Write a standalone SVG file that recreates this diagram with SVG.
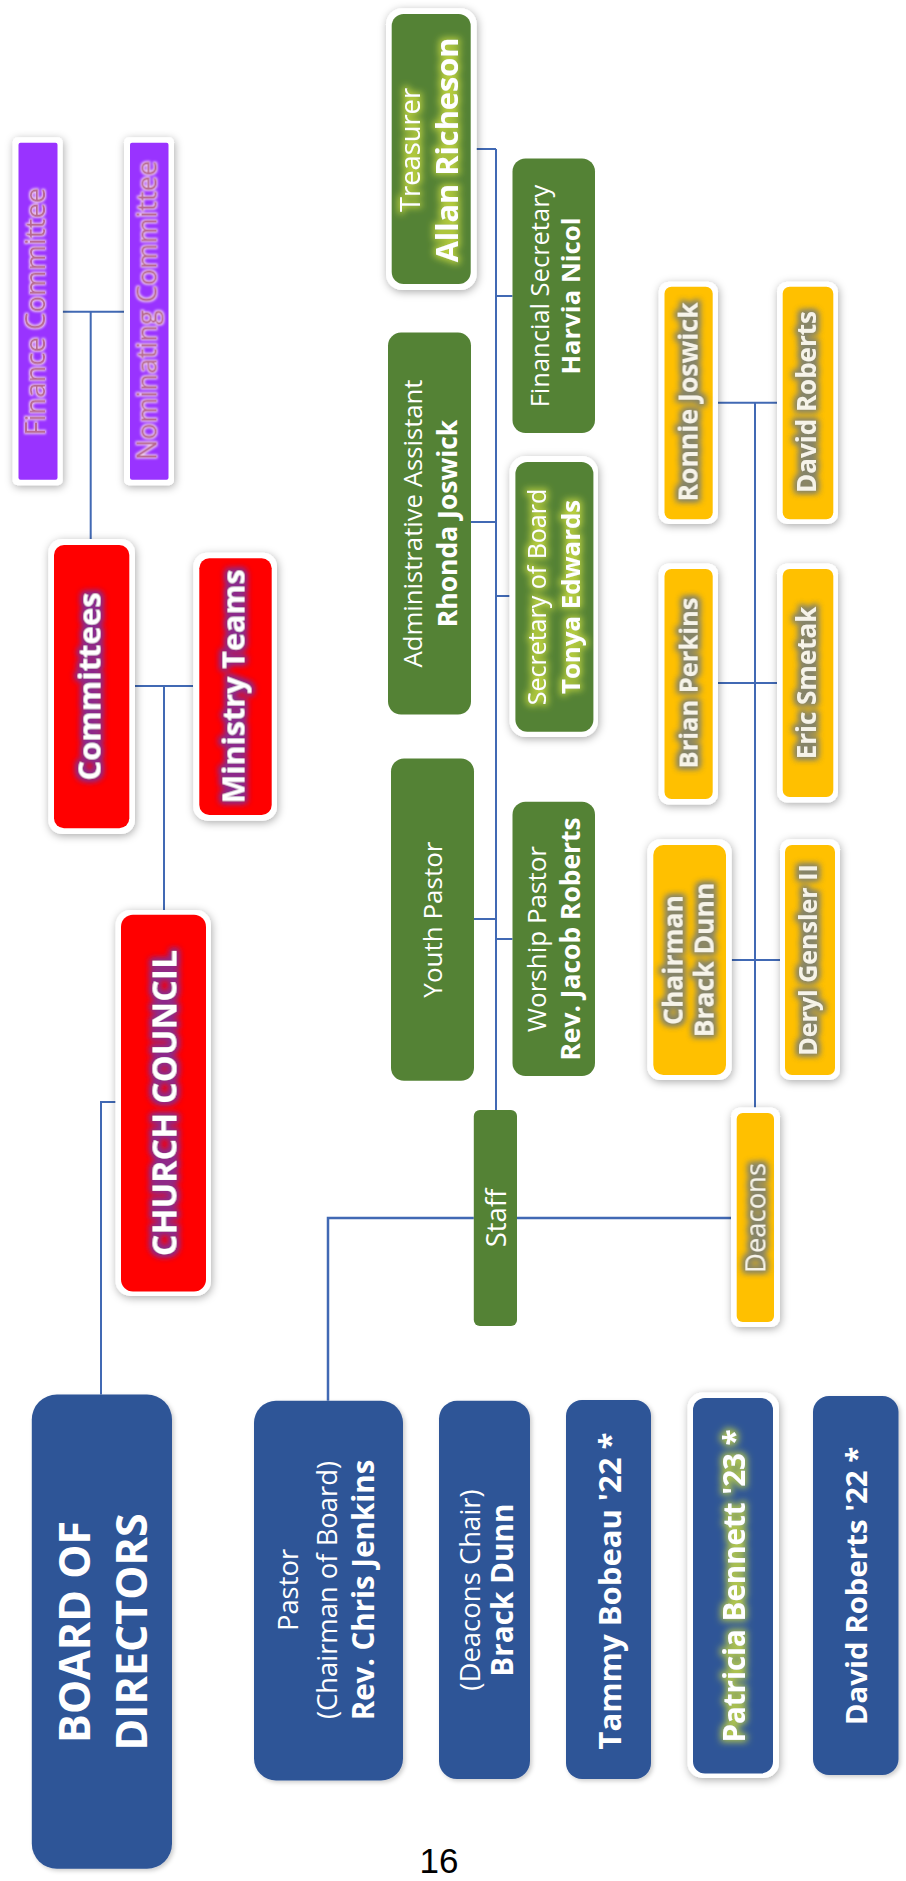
<svg xmlns="http://www.w3.org/2000/svg" width="906" height="1881" viewBox="0 0 906 1881">
<defs>
<style>
.ln{stroke:#4169B4;stroke-width:2;fill:none}
.w{fill:#fff;filter:url(#sh)}
.pu{fill:#9933FF}
.rd{fill:#FF0000}
.gr{fill:#548235}
.ye{fill:#FFC000}
.bl{fill:#2F5597;filter:url(#sh2)}
.t{font-family:"Open Sans","DejaVu Sans",sans-serif;fill:#fff;text-anchor:middle}
.b{font-weight:700}
.pk{fill:#B86A92;filter:url(#gPink)}
.gp{filter:url(#gPurp)}
.gg{filter:url(#gGreen)}
.go{fill:#F6F3E8;filter:url(#gOlive)}
</style>
<filter id="sh" x="-30%" y="-30%" width="160%" height="160%">
<feGaussianBlur in="SourceAlpha" stdDeviation="4.5"/>
<feOffset dx="1" dy="2" result="o"/>
<feFlood flood-color="#000" flood-opacity="0.33"/>
<feComposite in2="o" operator="in" result="s"/>
<feMerge><feMergeNode in="s"/><feMergeNode in="SourceGraphic"/></feMerge>
</filter>
<filter id="sh2" x="-20%" y="-20%" width="140%" height="140%">
<feGaussianBlur in="SourceAlpha" stdDeviation="2"/>
<feOffset dx="1.5" dy="1.5" result="o"/>
<feFlood flood-color="#000" flood-opacity="0.2"/>
<feComposite in2="o" operator="in" result="s"/>
<feMerge><feMergeNode in="s"/><feMergeNode in="SourceGraphic"/></feMerge>
</filter>
<filter id="gPink" x="-20%" y="-50%" width="140%" height="200%">
<feMorphology in="SourceAlpha" operator="dilate" radius="1.2" result="d"/>
<feGaussianBlur in="d" stdDeviation="1" result="bl"/>
<feFlood flood-color="#FADCF0" flood-opacity="0.9"/>
<feComposite in2="bl" operator="in" result="g"/>
<feMerge><feMergeNode in="g"/><feMergeNode in="SourceGraphic"/></feMerge>
</filter>
<filter id="gPurp" x="-20%" y="-50%" width="140%" height="200%">
<feMorphology in="SourceAlpha" operator="dilate" radius="2" result="d"/>
<feGaussianBlur in="d" stdDeviation="3" result="bl"/>
<feFlood flood-color="#8A2C8E" flood-opacity="0.95"/>
<feComposite in2="bl" operator="in" result="g"/>
<feMerge><feMergeNode in="g"/><feMergeNode in="g"/><feMergeNode in="SourceGraphic"/></feMerge>
</filter>
<filter id="gGreen" x="-20%" y="-50%" width="140%" height="200%">
<feMorphology in="SourceAlpha" operator="dilate" radius="2" result="d"/>
<feGaussianBlur in="d" stdDeviation="3.5" result="bl"/>
<feFlood flood-color="#C8DA40" flood-opacity="0.85"/>
<feComposite in2="bl" operator="in" result="g"/>
<feMerge><feMergeNode in="g"/><feMergeNode in="SourceGraphic"/></feMerge>
</filter>
<filter id="gOlive" x="-20%" y="-50%" width="140%" height="200%">
<feMorphology in="SourceAlpha" operator="dilate" radius="2" result="d"/>
<feGaussianBlur in="d" stdDeviation="3" result="bl"/>
<feFlood flood-color="#85846A" flood-opacity="0.95"/>
<feComposite in2="bl" operator="in" result="g"/>
<feMerge><feMergeNode in="g"/><feMergeNode in="g"/><feMergeNode in="SourceGraphic"/></feMerge>
</filter>
</defs>
<rect width="906" height="1881" fill="#fff"/>

<g id="connectors">
<path class="ln" d="M62.7,311.7 H124 M90.7,311.7 V539"/>
<path class="ln" d="M135,686 H193 M164,686 V910"/>
<path class="ln" d="M115.6,1102 H101 V1394.5"/>
<path class="ln" d="M475,149 H496 M496,149 V1110 M496,296 H512.5 M471,522 H496 M496,596 H509.6 M474,919 H496 M496,939 H512.5"/>
<path class="ln" d="M328,1400.8 V1218 H473.8 M517,1218 H731" style="stroke-width:2.5"/>
<path class="ln" d="M755,1107.6 V402.7 M718,402.7 H777 M718,683 H777 M731.7,960 H780"/>
</g>

<g id="finance-committee">
<rect class="w" x="12.7" y="137.3" width="50" height="348" rx="5"/>
<rect class="pu" x="18.5" y="142.8" width="39" height="337" rx="2"/>
<g transform="translate(38,311.7) rotate(-90)"><text class="t pk" x="0" y="7" font-size="27.5">Finance Committee</text></g>
</g>
<g id="nominating-committee">
<rect class="w" x="124" y="137.3" width="50" height="348" rx="5"/>
<rect class="pu" x="130" y="142.8" width="38.5" height="337" rx="2"/>
<g transform="translate(149.5,310.5) rotate(-90)"><text class="t pk" x="0" y="7" font-size="27.5">Nominating Committee</text></g>
</g>

<g id="committees">
<rect class="w" x="48.3" y="539" width="86.7" height="295" rx="14"/>
<rect class="rd" x="54" y="545" width="75.3" height="283.3" rx="10"/>
<g transform="translate(91.5,686.5) rotate(-90)"><text class="t b gp" x="0" y="8.5" font-size="31">Committees</text></g>
</g>
<g id="ministry-teams">
<rect class="w" x="193.3" y="552.7" width="83.7" height="268" rx="14"/>
<rect class="rd" x="199.3" y="558.3" width="72.4" height="256.7" rx="10"/>
<g transform="translate(235.5,686.5) rotate(-90)"><text class="t b gp" x="0" y="8.5" font-size="30.5">Ministry Teams</text></g>
</g>
<g id="church-council">
<rect class="w" x="115.6" y="910" width="95.4" height="386" rx="15"/>
<rect class="rd" x="121" y="914.7" width="85" height="376.8" rx="12"/>
<g transform="translate(163.5,1103) rotate(-90)"><text class="t b gp" x="0" y="12.5" font-size="34">CHURCH COUNCIL</text></g>
</g>

<g id="treasurer">
<rect class="w" x="386" y="8.3" width="90.7" height="281.7" rx="16"/>
<rect class="gr" x="391.7" y="14" width="79" height="270" rx="12"/>
<g transform="translate(431,150) rotate(-90)"><text class="t gg" x="0" y="-11" font-size="27.3">Treasurer</text><text class="t b gg" x="0" y="27" font-size="30.7">Allan Richeson</text></g>
</g>
<g id="financial-secretary">
<rect class="gr" x="512.5" y="158.5" width="82.5" height="274.5" rx="13"/>
<g transform="translate(554,296) rotate(-90)"><text class="t" x="0" y="-5" font-size="25.5">Financial Secretary</text><text class="t b" x="0" y="25.5" font-size="25.7">Harvia Nicol</text></g>
</g>
<g id="administrative-assistant">
<rect class="gr" x="388" y="332.6" width="83" height="382" rx="13"/>
<g transform="translate(430,523.5) rotate(-90)"><text class="t" x="0" y="-8.2" font-size="25.7">Administrative Assistant</text><text class="t b" x="0" y="26.5" font-size="26.5">Rhonda Joswick</text></g>
</g>
<g id="secretary-of-board">
<rect class="w" x="509.6" y="456" width="88.4" height="281" rx="16"/>
<rect class="gr" x="515.4" y="462" width="78" height="269.7" rx="12"/>
<g transform="translate(554,597) rotate(-90)"><text class="t gg" x="0" y="-8" font-size="25">Secretary of Board</text><text class="t b gg" x="0" y="25.5" font-size="25.8">Tonya Edwards</text></g>
</g>
<g id="youth-pastor">
<rect class="gr" x="391" y="758.5" width="83" height="322.3" rx="13"/>
<g transform="translate(432.5,919.6) rotate(-90)"><text class="t" x="0" y="9.5" font-size="26">Youth Pastor</text></g>
</g>
<g id="worship-pastor">
<rect class="gr" x="512.5" y="801.8" width="82.5" height="274.2" rx="13"/>
<g transform="translate(554,939) rotate(-90)"><text class="t" x="0" y="-8" font-size="26">Worship Pastor</text><text class="t b" x="0" y="25.5" font-size="26.4">Rev. Jacob Roberts</text></g>
</g>
<g id="staff">
<rect class="gr" x="473.8" y="1110" width="43.2" height="216" rx="6"/>
<g transform="translate(495.4,1218) rotate(-90)"><text class="t" x="0" y="10.2" font-size="27.5">Staff</text></g>
</g>

<g id="deacons">
<rect class="w" x="731" y="1107.6" width="49" height="219.4" rx="9"/>
<rect class="ye" x="736.7" y="1113" width="37.3" height="209" rx="6"/>
<g transform="translate(755.4,1218) rotate(-90)"><text class="t go" x="0" y="10.2" font-size="27.4">Deacons</text></g>
</g>
<g id="ronnie-joswick">
<rect class="w" x="658.7" y="281.7" width="59.3" height="242.3" rx="10"/>
<rect class="ye" x="664.5" y="286.7" width="48.2" height="232.6" rx="7"/>
<g transform="translate(688.6,402) rotate(-90)"><text class="t b go" x="0" y="8.5" font-size="26.6">Ronnie Joswick</text></g>
</g>
<g id="david-roberts">
<rect class="w" x="777" y="281.7" width="61" height="242.3" rx="10"/>
<rect class="ye" x="782.7" y="286.7" width="50.6" height="232.6" rx="7"/>
<g transform="translate(808,402) rotate(-90)"><text class="t b go" x="0" y="7.7" font-size="26">David Roberts</text></g>
</g>
<g id="brian-perkins">
<rect class="w" x="658.7" y="563.5" width="59.3" height="241" rx="10"/>
<rect class="ye" x="664.5" y="569" width="48.2" height="230" rx="7"/>
<g transform="translate(688.6,683) rotate(-90)"><text class="t b go" x="0" y="8.5" font-size="25.5">Brian Perkins</text></g>
</g>
<g id="eric-smetak">
<rect class="w" x="777" y="563.5" width="61" height="239" rx="10"/>
<rect class="ye" x="782.7" y="569" width="50.6" height="228" rx="7"/>
<g transform="translate(808,683) rotate(-90)"><text class="t b go" x="0" y="7.7" font-size="26">Eric Smetak</text></g>
</g>
<g id="chairman-brack-dunn">
<rect class="w" x="647.3" y="839.3" width="84.4" height="240.7" rx="13"/>
<rect class="ye" x="653.3" y="845" width="72.7" height="230" rx="10"/>
<g transform="translate(689.6,960) rotate(-90)"><text class="t b go" x="0" y="-6.9" font-size="26.5">Chairman</text><text class="t b go" x="0" y="24.4" font-size="26.5">Brack Dunn</text></g>
</g>
<g id="deryl-gensler">
<rect class="w" x="780" y="839.3" width="60" height="240.7" rx="10"/>
<rect class="ye" x="785" y="845" width="50" height="230" rx="7"/>
<g transform="translate(810,960) rotate(-90)"><text class="t b go" x="0" y="6.7" font-size="25">Deryl Gensler II</text></g>
</g>

<g id="board-of-directors">
<rect class="bl" x="31.8" y="1394.5" width="140.2" height="474.2" rx="25"/>
<g transform="translate(102,1632) rotate(-90)"><text class="t b" x="0" y="-12.4" font-size="43">BOARD OF</text><text class="t b" x="0" y="45" font-size="43">DIRECTORS</text></g>
</g>
<g id="pastor">
<rect class="bl" x="254" y="1400.8" width="149" height="379.7" rx="22"/>
<g transform="translate(328.5,1590) rotate(-90)"><text class="t" x="0" y="-30.5" font-size="27.4">Pastor</text><text class="t" x="0" y="8.5" font-size="27.4">(Chairman of Board)</text><text class="t b" x="0" y="45.5" font-size="29.5">Rev.  Chris Jenkins</text></g>
</g>
<g id="deacons-chair">
<rect class="bl" x="439" y="1400.8" width="91" height="378.2" rx="18"/>
<g transform="translate(484.5,1590) rotate(-90)"><text class="t" x="0" y="-4.9" font-size="27.5">(Deacons Chair)</text><text class="t b" x="0" y="28.5" font-size="29.7">Brack Dunn</text></g>
</g>
<g id="tammy-bobeau">
<rect class="bl" x="566" y="1400" width="85" height="379" rx="16"/>
<g transform="translate(608.5,1591) rotate(-90)"><text class="t b" x="0" y="12.5" font-size="31">Tammy Bobeau '22 *</text></g>
</g>
<g id="patricia-bennett">
<rect class="w" x="687.6" y="1392.6" width="91.4" height="385.4" rx="15"/>
<rect fill="#2F5597" x="693" y="1398" width="80" height="375.5" rx="12"/>
<g transform="translate(733,1586) rotate(-90)"><text class="t b gg" x="0" y="12" font-size="29.5">Patricia Bennett '23 *</text></g>
</g>
<g id="david-roberts-22">
<rect class="bl" x="813" y="1396" width="85.5" height="379" rx="16"/>
<g transform="translate(855.7,1586) rotate(-90)"><text class="t b" x="0" y="11" font-size="29.4">David Roberts '22 *</text></g>
</g>

<text x="439" y="1873" font-family="Liberation Sans, Arial, sans-serif" font-size="35" text-anchor="middle" fill="#000">16</text>
</svg>
